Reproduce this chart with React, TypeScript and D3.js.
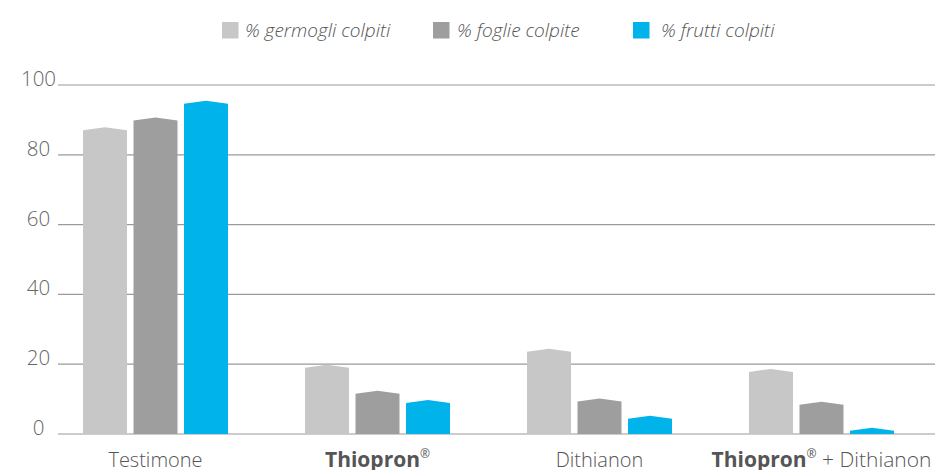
import React from "react";
import * as d3 from "d3";

const categories = ["Testimone", "Thiopron", "Dithianon", "Thiopron + Dithianon"];
const seriesNames = ["% germogli colpiti", "% foglie colpite", "% frutti colpiti"];
const germogli = [87, 19, 23.6, 17.8];
const foglie = [89.8, 11.5, 9.3, 8.4];
const frutti = [94.6, 8.9, 4.4, 0.9];
const seriesColors = ["#c6c7c6", "#9d9e9d", "#00b4eb"];
const yTicks = [0, 20, 40, 60, 80, 100];

const W = 935;
const H = 470;
const FONT = "'Open Sans', 'Noto Sans', sans-serif";

export default function App() {
  const series = [germogli, foglie, frutti];
  const y = d3.scaleLinear().domain([0, 100]).range([434, 85]);
  const x0 = d3.scaleBand<string>().domain(categories).range([44.5, 932.5]).paddingInner(0).paddingOuter(0);
  const bw = x0.bandwidth();
  const x1 = d3
    .scaleBand<string>()
    .domain(seriesNames)
    .range([bw / 2 - 72.5, bw / 2 + 72.5])
    .paddingInner(0.129)
    .paddingOuter(0);
  const roof = 3;

  const legendPos = [222, 433, 633];
  const legendTextPos = [245, 457, 661];

  const labelFor = (c: string, cx: number) => {
    const common = { x: cx, y: 467, textAnchor: "middle" as const, fontFamily: FONT, fontSize: 20, fill: "#555" };
    if (c === "Thiopron") {
      return (
        <text key={c} {...common} fontSize={21}>
          <tspan fontWeight={700}>Thiopron</tspan>
          <tspan fontSize={12} dy={-9} fontWeight={400}>®</tspan>
        </text>
      );
    }
    if (c === "Thiopron + Dithianon") {
      return (
        <text key={c} {...common} fontSize={21}>
          <tspan fontWeight={700}>Thiopron</tspan>
          <tspan fontSize={12} dy={-9} fontWeight={400}>®</tspan>
          <tspan dy={9} fontWeight={300}> + Dithianon</tspan>
        </text>
      );
    }
    return (
      <text key={c} {...common} fontWeight={300}>
        {c}
      </text>
    );
  };

  return (
    <svg width={W} height={H} style={{ position: "absolute", left: 0, top: 0, background: "#fff" }}>
      {/* legend */}
      {seriesNames.map((s, i) => (
        <g key={s}>
          <rect x={legendPos[i]} y={22} width={16.5} height={16.5} fill={seriesColors[i]} />
          <text
            x={legendTextPos[i]}
            y={36.5}
            fontFamily={FONT}
            fontStyle="italic"
            fontWeight={300}
            fontSize={19}
            fill="#555"
          >
            {s}
          </text>
        </g>
      ))}
      {/* grid */}
      {yTicks.map((t) => (
        <g key={t}>
          <line x1={58} x2={W} y1={y(t)} y2={y(t)} stroke="#9a9a9a" strokeWidth={1.2} />
          <text x={38.5} y={y(t) + 1} textAnchor="middle" fontFamily={FONT} fontWeight={300} fontSize={20.5} fill="#666">
            {t}
          </text>
        </g>
      ))}
      {/* bars */}
      {categories.map((c, ci) => (
        <g key={c} transform={`translate(${x0(c)},0)`}>
          {series.map((vals, si) => {
            const bx = x1(seriesNames[si])!;
            const w = x1.bandwidth();
            const top = y(vals[ci]);
            const base = y(0);
            const path = d3.path();
            path.moveTo(bx, base);
            path.lineTo(bx, top);
            path.lineTo(bx + w / 2, top - roof);
            path.lineTo(bx + w, top);
            path.lineTo(bx + w, base);
            path.closePath();
            return <path key={si} d={path.toString()} fill={seriesColors[si]} />;
          })}
        </g>
      ))}
      {/* x labels */}
      {categories.map((c) => labelFor(c, x0(c)! + bw / 2))}
    </svg>
  );
}
